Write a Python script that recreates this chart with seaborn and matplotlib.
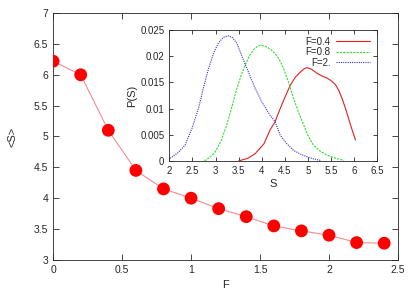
import matplotlib
matplotlib.use("Agg")
import matplotlib.pyplot as plt
import seaborn as sns
import pandas as pd

# main curve: <S> versus F
f_vals = [0.0, 0.2, 0.4, 0.6, 0.8, 1.0, 1.2, 1.4, 1.6, 1.8, 2.0, 2.2, 2.4]
s_mean = [6.22, 6.0, 5.1, 4.45, 4.15, 4.0, 3.83, 3.7, 3.55, 3.47, 3.4, 3.28, 3.27]

# inset: P(S) for three forces
s_f04 = [3.5, 3.7, 3.86, 4.05, 4.18, 4.29, 4.4, 4.51, 4.62, 4.73, 4.84, 4.92, 4.98, 5.08,
         5.2, 5.31, 5.42, 5.52, 5.6, 5.67, 5.74, 5.81, 5.88, 5.95, 6.03]
p_f04 = [0.0, 0.0005, 0.0014, 0.0033, 0.0059, 0.0075, 0.0100, 0.0123, 0.0145, 0.0160, 0.0170,
         0.0176, 0.0178, 0.0175, 0.0167, 0.0162, 0.0158, 0.0152, 0.0145, 0.0134, 0.0119,
         0.0101, 0.0081, 0.0061, 0.004]
s_f08 = [2.76, 2.88, 2.99, 3.12, 3.24, 3.35, 3.46, 3.55, 3.64, 3.73, 3.82, 3.9, 3.97, 4.07,
         4.18, 4.29, 4.38, 4.47, 4.58, 4.69, 4.8, 4.91, 5.01, 5.12, 5.26, 5.41, 5.6, 5.78]
p_f08 = [0.0, 0.0007, 0.0017, 0.0038, 0.0068, 0.0102, 0.0138, 0.0162, 0.0183, 0.0200, 0.0212,
         0.0218, 0.0221, 0.0219, 0.0214, 0.0205, 0.0194, 0.0177, 0.0150, 0.0119, 0.0092,
         0.0068, 0.0047, 0.0030, 0.0019, 0.0011, 0.0005, 0.0001]
s_f2 = [2.015, 2.18, 2.34, 2.49, 2.63, 2.74, 2.85, 2.96, 3.06, 3.17, 3.28, 3.37, 3.46, 3.58,
        3.71, 3.85, 4.0, 4.18, 4.29, 4.4, 4.54, 4.69, 4.84, 4.98, 5.12, 5.27]
p_f2 = [0.0005, 0.0015, 0.003, 0.0062, 0.0100, 0.0140, 0.0177, 0.0206, 0.0225, 0.0236,
        0.0239, 0.0235, 0.0225, 0.0198, 0.0170, 0.0140, 0.0113, 0.0087, 0.0075, 0.0049,
        0.0033, 0.0020, 0.0013, 0.0008, 0.0004, 0.0001]

sns.set_style("ticks")
plt.rcParams['font.family'] = ['Liberation Sans', 'DejaVu Sans']
plt.rcParams['xtick.direction'] = 'in'
plt.rcParams['ytick.direction'] = 'in'

fig = plt.figure(figsize=(4.15, 2.91), dpi=100)
ax = fig.add_axes([0.128, 0.107, 0.831, 0.848])

main_df = pd.DataFrame({'F': f_vals, 'S': s_mean})
sns.lineplot(data=main_df, x='F', y='S', ax=ax, color='#f28c8c', lw=0.8)
sns.scatterplot(data=main_df, x='F', y='S', ax=ax, color='#ff0000', s=85,
                edgecolor='none', zorder=3)
ax.set_xlim(0, 2.5)
ax.set_ylim(3, 7)
ax.set_xticks([0, 0.5, 1, 1.5, 2, 2.5])
ax.set_xticklabels(['0', '0.5', '1', '1.5', '2', '2.5'])
ax.set_yticks([3, 3.5, 4, 4.5, 5, 5.5, 6, 6.5, 7])
ax.set_yticklabels(['3', '3.5', '4', '4.5', '5', '5.5', '6', '6.5', '7'])
ax.tick_params(labelsize=7.5, top=True, right=True, length=4, width=0.6)
ax.set_xlabel('F', fontsize=8)
ax.set_ylabel('<S>', fontsize=8, labelpad=12)
for sp in ax.spines.values():
    sp.set_linewidth(0.6)

# inset
ins = fig.add_axes([0.408, 0.447, 0.501, 0.450])
sns.lineplot(x=s_f04, y=p_f04, ax=ins, color='#e02020', lw=0.8, label='F=0.4')
sns.lineplot(x=s_f08, y=p_f08, ax=ins, color='#33dd33', lw=0.8, label='F=0.8',
             linestyle=(0, (2, 1)))
sns.lineplot(x=s_f2, y=p_f2, ax=ins, color='#3333cc', lw=0.8, label='F=2.',
             linestyle=(0, (1, 1)))
ins.set_xlim(2, 6.5)
ins.set_ylim(0, 0.025)
ins.set_xticks([2, 2.5, 3, 3.5, 4, 4.5, 5, 5.5, 6, 6.5])
ins.set_xticklabels(['2', '2.5', '3', '3.5', '4', '4.5', '5', '5.5', '6', '6.5'])
ins.set_yticks([0, 0.005, 0.01, 0.015, 0.02, 0.025])
ins.set_yticklabels(['0', '0.005', '0.01', '0.015', '0.02', '0.025'])
ins.tick_params(labelsize=7, top=True, right=True, length=3, width=0.6)
ins.set_xlabel('S', fontsize=8, labelpad=2)
ins.set_ylabel('P(S)', fontsize=8, labelpad=2)
for sp in ins.spines.values():
    sp.set_linewidth(0.6)
leg = ins.legend(loc='upper right', frameon=False, fontsize=7, markerfirst=False,
                 handlelength=3.5, labelspacing=0.05, borderaxespad=0.3,
                 handletextpad=0.6)
# right-align the legend rows (gnuplot style)
for col in leg._legend_handle_box.get_children():
    col.align = 'right'

fig.savefig('out.png', dpi=100)
